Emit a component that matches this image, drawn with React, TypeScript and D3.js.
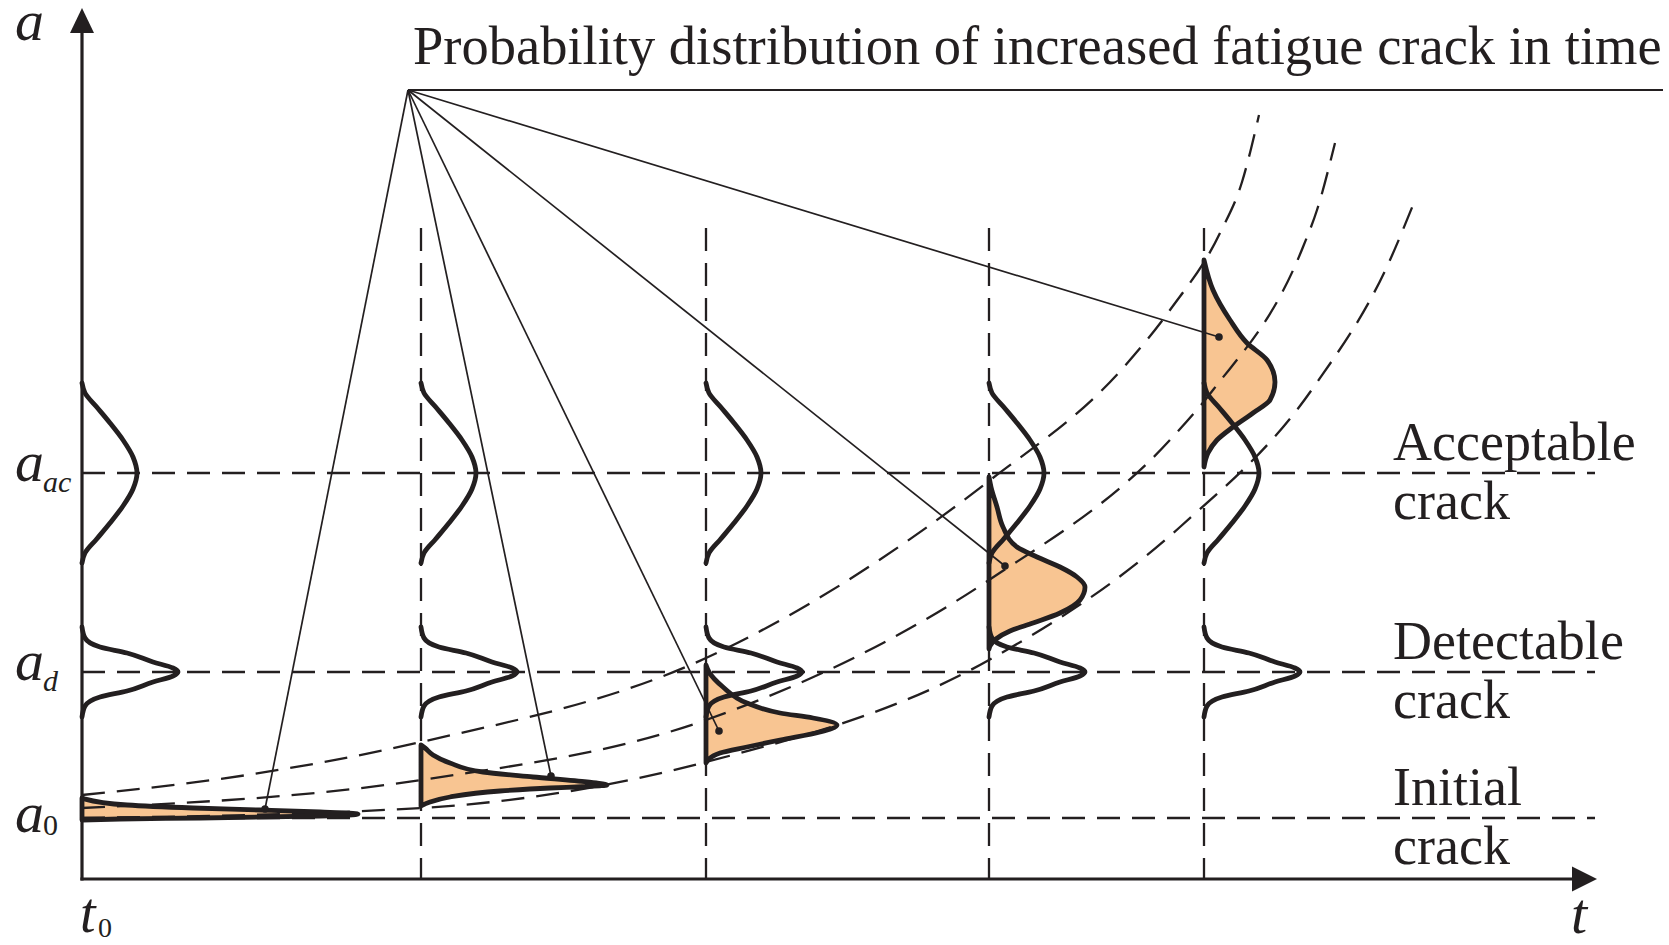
import React, { useEffect, useRef } from "react";
import * as d3 from "d3";

const W = 1669;
const H = 945;

// axis extents (t = time, a = crack size)
const T_MAX = 15.15;
const A_MAX = 8.71;
const LEVEL_END = 15.13;

// crack size levels
const levelValues = [0.61, 2.07, 4.06];
const levelSubs = ["0", "d", "ac"];
const levelWords = [["Initial", "crack"], ["Detectable", "crack"], ["Acceptable", "crack"]];

// inspection times (t0 is the axis itself)
const times = [0, 3.39, 6.24, 9.07, 11.22];
const timeLineTop = 6.51;

// half outlines of the symmetric pdfs, [da from centre, dt from time line]
const bellAccept = [[0.9, 0], [0.8, 0.03], [0.66, 0.147], [0.5, 0.28], [0.33, 0.41], [0.16, 0.51], [0, 0.55]];
const bellDetect = [[0.45, 0], [0.34, 0.03], [0.25, 0.18], [0.19, 0.45], [0.1, 0.71], [0.04, 0.91], [0, 0.96]];

// skewed pdfs of the growing crack, [a, dt from time line]
const pdfT0 = [[0.81, 0], [0.8, 0.03], [0.74, 0.45], [0.71, 1.11], [0.69, 1.78], [0.67, 2.38], [0.65, 2.76], [0.63, 2.38], [0.61, 1.18], [0.6, 0.38], [0.59, 0]];
const pdfT1 = [[1.34, 0], [1.31, 0.04], [1.24, 0.12], [1.16, 0.29], [1.07, 0.62], [1.02, 1.12], [0.97, 1.66], [0.94, 1.86], [0.925, 1.66], [0.91, 1.29], [0.88, 0.79], [0.82, 0.29], [0.77, 0.09], [0.73, 0]];
const pdfT2 = [[2.14, 0], [2.07, 0.03], [1.92, 0.17], [1.76, 0.41], [1.66, 0.74], [1.61, 1.07], [1.54, 1.31], [1.47, 1.14], [1.39, 0.74], [1.32, 0.41], [1.26, 0.14], [1.19, 0.02], [1.16, 0]];
const pdfT3 = [[4.02, 0], [3.92, 0.02], [3.72, 0.08], [3.52, 0.14], [3.32, 0.28], [3.22, 0.48], [3.12, 0.71], [3.02, 0.88], [2.92, 0.96], [2.79, 0.91], [2.66, 0.71], [2.56, 0.44], [2.48, 0.21], [2.4, 0.07], [2.33, 0.01], [2.3, 0]];
const pdfT4 = [[6.19, 0], [5.89, 0.09], [5.59, 0.26], [5.36, 0.43], [5.19, 0.63], [4.97, 0.71], [4.79, 0.66], [4.66, 0.49], [4.52, 0.29], [4.39, 0.13], [4.26, 0.04], [4.12, 0]];
const growthPdfs = [pdfT0, pdfT1, pdfT2, pdfT3, pdfT4];

// dashed crack growth curves, [t, a]
const curveUpper = [[0, 0.84], [1.65, 1.04], [3.39, 1.37], [6.24, 2.21], [9.07, 3.98], [10.41, 5.11], [10.88, 5.69], [11.38, 6.46], [11.6, 6.97], [11.77, 7.64]];
const curveMiddle = [[0, 0.71], [3.39, 0.99], [6.24, 1.59], [9.07, 2.99], [10.88, 4.39], [11.31, 4.89], [12.21, 6.32], [12.35, 6.69], [12.53, 7.36]];
const curveLower = [[0, 0.61], [3.39, 0.71], [6.24, 1.17], [9.07, 2.19], [10.98, 3.52], [12.31, 4.91], [13.08, 6.19], [13.31, 6.74]];

// leader lines: common focus and the marked point of each pdf
const focusT = 3.26;
const focusA = 7.89;
const titleEndT = 15.81;
const leaderT = [1.83, 4.69, 6.37, 9.23, 11.37];
const leaderA = [0.7, 1.03, 1.48, 3.13, 5.42];

const title = "Probability distribution of increased fatigue crack in time";

const ink = "#231f20";
const peach = "#f8c592";
const serif = "'Liberation Serif', 'Times New Roman', serif";

const App = () => {
  const ref = useRef<HTMLDivElement>(null);

  useEffect(() => {
    const x = d3.scaleLinear().domain([0, T_MAX]).range([82, 1597]);
    const y = d3.scaleLinear().domain([0, A_MAX]).range([879, 8]);

    const svg = d3.select(ref.current)
      .append("svg")
      .attr("width", W)
      .attr("height", H)
      .style("background", "#ffffff")
      .style("display", "block");

    // filled pdfs
    const pdfArea = (t: number) => d3.area<number[]>()
      .y(d => y(d[0]))
      .x0(x(t))
      .x1(d => x(t + d[1]))
      .curve(d3.curveMonotoneY);

    svg.append("g")
      .selectAll("path")
      .data(growthPdfs)
      .join("path")
      .attr("d", (d, i) => pdfArea(times[i])(d))
      .attr("fill", peach);

    // dashed reference lines
    const dashed = svg.append("g")
      .attr("stroke", ink)
      .attr("stroke-width", 2.3)
      .attr("stroke-dasharray", "23 12")
      .attr("fill", "none");

    dashed.selectAll("line.level")
      .data(levelValues)
      .join("line")
      .attr("class", "level")
      .attr("x1", x(0))
      .attr("x2", x(LEVEL_END))
      .attr("y1", d => y(d))
      .attr("y2", d => y(d));

    dashed.selectAll("line.time")
      .data(times.slice(1))
      .join("line")
      .attr("class", "time")
      .attr("x1", d => x(d))
      .attr("x2", d => x(d))
      .attr("y1", y(timeLineTop))
      .attr("y2", y(0));

    const growthLine = d3.line<number[]>()
      .x(d => x(d[0]))
      .y(d => y(d[1]))
      .curve(d3.curveMonotoneX);

    dashed.selectAll("path")
      .data([curveUpper, curveMiddle, curveLower])
      .join("path")
      .attr("d", d => growthLine(d));

    // symmetric pdfs at detectable and acceptable size
    const bellLine = d3.line<number[]>()
      .x(d => x(d[0]))
      .y(d => y(d[1]))
      .curve(d3.curveMonotoneY);

    const bellPoints = (t: number, c: number, half: number[][]) => [
      ...half.map(([da, dt]) => [t + dt, c + da]),
      ...half.slice(0, -1).reverse().map(([da, dt]) => [t + dt, c - da])
    ];

    const bells: number[][][] = [];
    times.forEach(t => {
      bells.push(bellPoints(t, levelValues[1], bellDetect));
      bells.push(bellPoints(t, levelValues[2], bellAccept));
    });

    svg.append("g")
      .attr("fill", "none")
      .attr("stroke", ink)
      .attr("stroke-width", 4.8)
      .attr("stroke-linecap", "round")
      .selectAll("path")
      .data(bells)
      .join("path")
      .attr("d", d => bellLine(d));

    // outlines of the filled pdfs
    svg.append("g")
      .selectAll("path")
      .data(growthPdfs)
      .join("path")
      .attr("d", (d, i) => pdfArea(times[i])(d))
      .attr("fill", "none")
      .attr("stroke", ink)
      .attr("stroke-width", 4.8)
      .attr("stroke-linejoin", "round");

    // leader lines from the title
    const leaders = svg.append("g").attr("stroke", ink).attr("stroke-width", 1.7);
    leaders.append("line")
      .attr("x1", x(focusT)).attr("y1", y(focusA))
      .attr("x2", x(titleEndT)).attr("y2", y(focusA))
      .attr("stroke-width", 2.2);
    leaders.selectAll("line.lead")
      .data(leaderT)
      .join("line")
      .attr("class", "lead")
      .attr("x1", x(focusT)).attr("y1", y(focusA))
      .attr("x2", d => x(d))
      .attr("y2", (d, i) => y(leaderA[i]));

    svg.append("g")
      .selectAll("circle")
      .data(leaderT)
      .join("circle")
      .attr("cx", d => x(d))
      .attr("cy", (d, i) => y(leaderA[i]))
      .attr("r", 3.8)
      .attr("fill", ink);

    // axes with arrow heads
    const axes = svg.append("g").attr("stroke", ink).attr("stroke-width", 3.2);
    axes.append("line")
      .attr("x1", x(0)).attr("y1", y(0) + 1.6)
      .attr("x2", x(0)).attr("y2", y(A_MAX) + 20);
    axes.append("line")
      .attr("x1", x(0) - 1.6).attr("y1", y(0))
      .attr("x2", x(T_MAX) - 20).attr("y2", y(0));

    svg.append("path")
      .attr("d", `M${x(0)},${y(A_MAX)} L${x(0) + 12},${y(A_MAX) + 25} L${x(0) - 12},${y(A_MAX) + 25} Z`)
      .attr("fill", ink);
    svg.append("path")
      .attr("d", `M${x(T_MAX)},${y(0)} L${x(T_MAX) - 25},${y(0) - 12.5} L${x(T_MAX) - 25},${y(0) + 12.5} Z`)
      .attr("fill", ink);

    // texts
    const txt = svg.append("g")
      .attr("fill", ink)
      .style("font-family", serif);

    txt.append("text")
      .attr("x", x(focusT) + 5)
      .attr("y", y(focusA) - 26)
      .attr("font-size", 54.5)
      .text(title);

    levelWords.forEach((words, i) => {
      words.forEach((w, j) => {
        txt.append("text")
          .attr("x", 1393)
          .attr("y", y(levelValues[i]) + (j === 0 ? -13 : 46))
          .attr("font-size", 54)
          .text(w);
      });
    });

    // a, a_0, a_d, a_ac
    txt.append("text")
      .attr("x", 15).attr("y", 40)
      .attr("font-size", 58)
      .attr("font-style", "italic")
      .text("a");

    levelSubs.forEach((s, i) => {
      const base = y(levelValues[i]) + (s === "0" ? 14 : 8);
      txt.append("text")
        .attr("x", 15).attr("y", base)
        .attr("font-size", 58)
        .attr("font-style", "italic")
        .text("a");
      txt.append("text")
        .attr("x", 43).attr("y", base + (s === "0" ? 3 : 11))
        .attr("font-size", 30)
        .attr("font-style", s === "0" ? "normal" : "italic")
        .text(s);
    });

    // t0, t
    txt.append("text")
      .attr("x", x(0) - 2).attr("y", y(0) + 53)
      .attr("font-size", 56)
      .attr("font-style", "italic")
      .text("t");
    txt.append("text")
      .attr("x", x(0) + 16).attr("y", y(0) + 58)
      .attr("font-size", 28)
      .text("0");
    txt.append("text")
      .attr("x", x(T_MAX) - 26).attr("y", y(0) + 54)
      .attr("font-size", 58)
      .attr("font-style", "italic")
      .text("t");

    return () => {
      d3.select(ref.current).selectAll("*").remove();
    };
  }, []);

  return <div ref={ref} style={{ position: "absolute", left: 0, top: 0, width: W, height: H }}></div>;
};

export default App;
